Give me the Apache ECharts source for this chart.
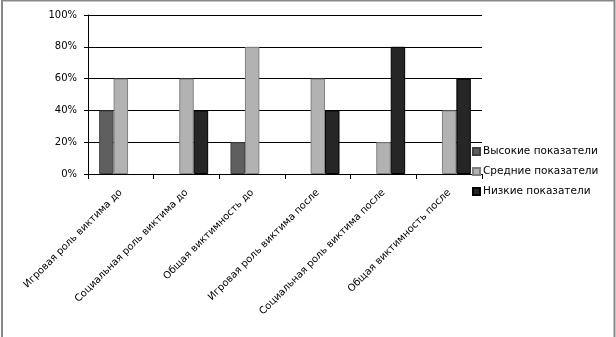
<!DOCTYPE html>
<html>
<head>
<meta charset="utf-8">
<script src="https://cdn.jsdelivr.net/npm/echarts@6/dist/echarts.min.js"></script>
<style>
html,body{margin:0;padding:0;background:#fff;}
#c{width:616px;height:337px;}
</style>
</head>
<body>
<div id="c"></div>
<script>
var categories = [
  'Игровая роль виктима до',
  'Социальная роль виктима до',
  'Общая виктимность до',
  'Игровая роль виктима после',
  'Социальная роль виктима после',
  'Общая виктимность после'
];
var seriesNames = ['Высокие показатели', 'Средние показатели', 'Низкие показатели'];
var high = [40, 0, 20, 0, 0, 0];
var medium = [60, 60, 80, 60, 20, 40];
var low = [0, 40, 0, 40, 80, 60];
var yMin = 0, yMax = 100, yInterval = 20;

var colors = ['#5f5f5f', '#b2b2b2', '#262626'];
var borders = ['#404040', '#808080', '#000000'];
var values = [high, medium, low];

var chart = echarts.init(document.getElementById('c'), null, {renderer: 'canvas'});
var font = 'DejaVu Sans';
chart.setOption({
  animation: false,
  backgroundColor: '#fff',
  graphic: [{
    type: 'rect',
    shape: {x: 2, y: 0.5, width: 612.5, height: 340},
    style: {fill: 'none', stroke: '#888', lineWidth: 2},
    silent: true
  }],
  grid: {left: 88, right: 134, top: 15, bottom: 163},
  legend: {
    orient: 'vertical',
    left: 472,
    top: 146,
    padding: 0,
    itemWidth: 7,
    itemHeight: 7,
    itemGap: 9,
    icon: 'rect',
    textStyle: {fontFamily: font, fontSize: 10.5, color: '#000', padding: [0, 0, 0, -2]},
    data: seriesNames
  },
  xAxis: {
    type: 'category',
    data: categories,
    axisLine: {lineStyle: {color: '#000', width: 1}},
    axisTick: {show: true, length: 5, lineStyle: {color: '#000'}},
    axisLabel: {rotate: 45, fontFamily: font, fontSize: 10, color: '#000', margin: 17, interval: 0}
  },
  yAxis: {
    type: 'value',
    min: yMin, max: yMax, interval: yInterval,
    axisLine: {show: true, lineStyle: {color: '#000', width: 1}},
    axisTick: {show: true, length: 4, lineStyle: {color: '#000'}},
    splitLine: {lineStyle: {color: '#000', width: 1}},
    axisLabel: {formatter: '{value}%', fontFamily: font, fontSize: 10, color: '#000', margin: 11}
  },
  series: seriesNames.map(function (n, i) {
    return {
      name: n,
      type: 'bar',
      data: values[i].map(function (v) {
        return v === 0 ? {value: v, itemStyle: {borderWidth: 0}} : v;
      }),
      barGap: '0%',
      barCategoryGap: '34%',
      itemStyle: {color: colors[i], borderColor: borders[i], borderWidth: 1}
    };
  })
});
</script>
</body>
</html>
